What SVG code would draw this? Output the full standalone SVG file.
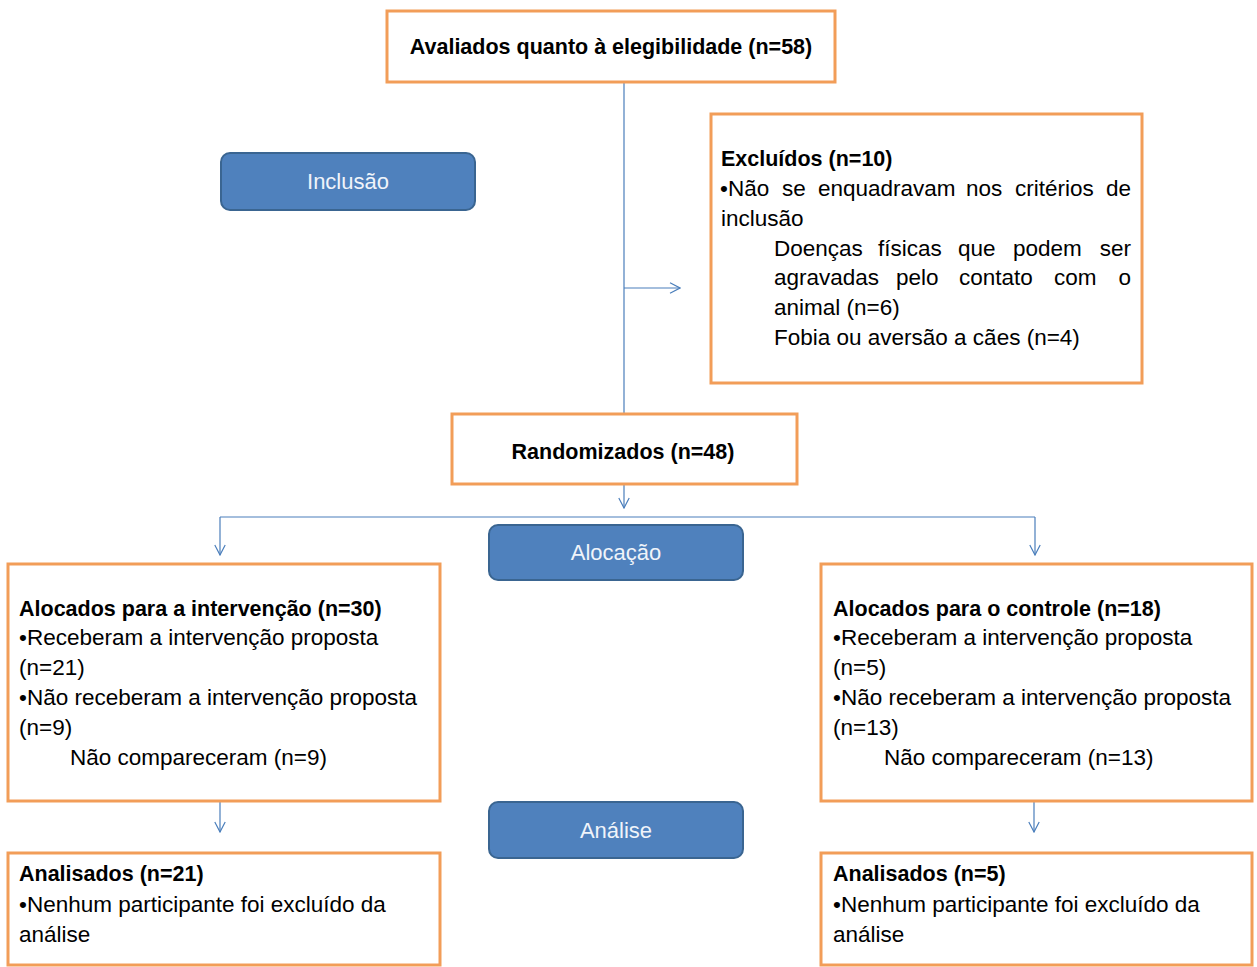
<svg xmlns="http://www.w3.org/2000/svg" width="1257" height="967" viewBox="0 0 1257 967">
<defs>
<style>
.box{fill:#fff;stroke:#F29D58;stroke-width:3}
.phase{fill:#4F81BD;stroke:#3A6591;stroke-width:2}
.con{fill:none;stroke:#4A7EBB;stroke-width:1.2}
.b{font-family:"Liberation Sans",Arial,sans-serif;font-weight:bold;font-size:21.5px;fill:#000}
.r{font-family:"Liberation Sans",Arial,sans-serif;font-size:22.5px;fill:#000}
.pt{font-family:"Liberation Sans",Arial,sans-serif;font-size:22px;fill:#F0F4FA;text-anchor:middle}
</style>
<marker id="ah" viewBox="0 0 12 12" refX="11.5" refY="6" markerWidth="12" markerHeight="12" markerUnits="userSpaceOnUse" orient="auto">
<path d="M1.5,0.8 L11.5,6 L1.5,11.2" fill="none" stroke="#4A7EBB" stroke-width="1.2"/>
</marker>
</defs>
<rect width="1257" height="967" fill="#fff"/>

<g id="connectors">
<line class="con" x1="624" y1="82" x2="624" y2="413"/>
<line class="con" x1="624" y1="288" x2="680" y2="288" marker-end="url(#ah)"/>
<line class="con" x1="624" y1="484" x2="624" y2="508" marker-end="url(#ah)"/>
<line class="con" x1="220" y1="517" x2="1035" y2="517"/>
<line class="con" x1="220" y1="517" x2="220" y2="555" marker-end="url(#ah)"/>
<line class="con" x1="1035" y1="517" x2="1035" y2="555" marker-end="url(#ah)"/>
<line class="con" x1="220" y1="801" x2="220" y2="832" marker-end="url(#ah)"/>
<line class="con" x1="1034" y1="801" x2="1034" y2="832" marker-end="url(#ah)"/>
</g>

<g id="avaliados">
<rect class="box" x="387" y="11" width="448" height="71"/>
<text class="b" x="611" y="54" text-anchor="middle">Avaliados quanto à elegibilidade (n=58)</text>
</g>

<g id="inclusao">
<rect class="phase" x="221" y="153" width="254" height="57" rx="9"/>
<text class="pt" x="348" y="189">Inclusão</text>
</g>

<g id="excluidos">
<rect class="box" x="711" y="114" width="431" height="269"/>
<text class="b" x="721" y="166">Excluídos (n=10)</text>
<text class="r" y="196"><tspan x="720">•Não</tspan><tspan x="782">se</tspan><tspan x="818">enquadravam</tspan><tspan x="966">nos</tspan><tspan x="1015">critérios</tspan><tspan x="1131" text-anchor="end">de</tspan></text>
<text class="r" x="721" y="226">inclusão</text>
<text class="r" y="256"><tspan x="774">Doenças</tspan><tspan x="878">físicas</tspan><tspan x="958">que</tspan><tspan x="1013">podem</tspan><tspan x="1131" text-anchor="end">ser</tspan></text>
<text class="r" y="285"><tspan x="774">agravadas</tspan><tspan x="896">pelo</tspan><tspan x="959">contato</tspan><tspan x="1054">com</tspan><tspan x="1131" text-anchor="end">o</tspan></text>
<text class="r" x="774" y="315">animal (n=6)</text>
<text class="r" x="774" y="345">Fobia ou aversão a cães (n=4)</text>
</g>

<g id="randomizados">
<rect class="box" x="452" y="414" width="345" height="70"/>
<text class="b" x="623" y="459" text-anchor="middle">Randomizados (n=48)</text>
</g>

<g id="alocacao">
<rect class="phase" x="489" y="525" width="254" height="55" rx="9"/>
<text class="pt" x="616" y="560">Alocação</text>
</g>

<g id="alocados-intervencao">
<rect class="box" x="8" y="564" width="432" height="237"/>
<text class="b" x="19" y="616">Alocados para a intervenção (n=30)</text>
<text class="r" x="19" y="645">•Receberam a intervenção proposta</text>
<text class="r" x="19" y="675">(n=21)</text>
<text class="r" x="19" y="705">•Não receberam a intervenção proposta</text>
<text class="r" x="19" y="735">(n=9)</text>
<text class="r" x="70" y="765">Não compareceram (n=9)</text>
</g>

<g id="alocados-controle">
<rect class="box" x="821" y="564" width="431" height="237"/>
<text class="b" x="833" y="616">Alocados para o controle (n=18)</text>
<text class="r" x="833" y="645">•Receberam a intervenção proposta</text>
<text class="r" x="833" y="675">(n=5)</text>
<text class="r" x="833" y="705">•Não receberam a intervenção proposta</text>
<text class="r" x="833" y="735">(n=13)</text>
<text class="r" x="884" y="765">Não compareceram (n=13)</text>
</g>

<g id="analise">
<rect class="phase" x="489" y="802" width="254" height="56" rx="9"/>
<text class="pt" x="616" y="838">Análise</text>
</g>

<g id="analisados-intervencao">
<rect class="box" x="8" y="853" width="432" height="112"/>
<text class="b" x="19" y="881">Analisados (n=21)</text>
<text class="r" x="19" y="912">•Nenhum participante foi excluído da</text>
<text class="r" x="19" y="942">análise</text>
</g>

<g id="analisados-controle">
<rect class="box" x="821" y="853" width="431" height="112"/>
<text class="b" x="833" y="881">Analisados (n=5)</text>
<text class="r" x="833" y="912">•Nenhum participante foi excluído da</text>
<text class="r" x="833" y="942">análise</text>
</g>
</svg>
